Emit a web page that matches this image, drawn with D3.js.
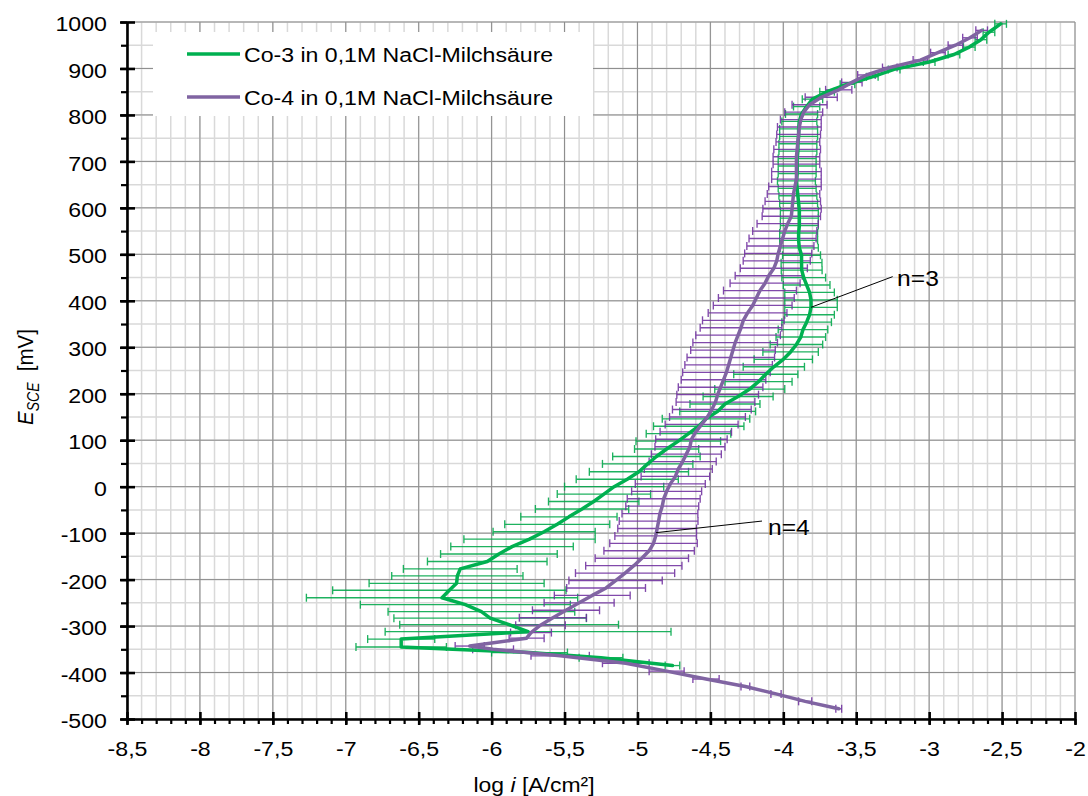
<!DOCTYPE html>
<html>
<head>
<meta charset="utf-8">
<script src="https://cdn.jsdelivr.net/npm/d3@7"></script>
<style>
  body { margin: 0; background: #fff; }
  text { font-family: "Liberation Sans", Arial, sans-serif; fill: #000; }
</style>
</head>
<body>
<svg id="chart" width="1088" height="796"></svg>
<script>
// Polarisation curves, averaged over n samples, with ±SD error bars on log i
// Co-3 in 0,1M NaCl-Milchsäure (n=3)
const co3E = [-385, -368, -357, -345, -328, -312, -297, -283, -269, -254, -239, -223, -208, -192, -177, -161, -145, -129, -113, -97,
  -81, -65, -48, -32, -16, 0, 16, 32, 49, 65, 81, 98, 114, 130, 146, 162, 178, 194, 210, 226,
  242, 258, 274, 290, 306, 322, 338, 354, 370, 386, 402, 418, 434, 450, 466, 482, 498, 514, 530, 546,
  562, 578, 594, 610, 626, 642, 658, 674, 690, 706, 722, 738, 754, 770, 786, 802, 818, 834, 850, 866,
  882, 898, 914, 930, 946, 962, 978, 996];
const co3LogI = [-4.76, -5.25, -5.74, -6.62, -6.62, -5.75, -5.88, -6.01, -6.07, -6.18, -6.34, -6.29, -6.24, -6.235, -6.215, -6.03, -5.95, -5.86, -5.74, -5.64,
  -5.55, -5.47, -5.38, -5.30, -5.23, -5.16, -5.07, -4.99, -4.93, -4.87, -4.80, -4.72, -4.65, -4.58, -4.53, -4.45, -4.40, -4.31, -4.23, -4.17,
  -4.12, -4.065, -4.00, -3.95, -3.91, -3.88, -3.865, -3.84, -3.82, -3.81, -3.81, -3.82, -3.84, -3.86, -3.874, -3.875, -3.875, -3.89, -3.895, -3.895,
  -3.89, -3.89, -3.89, -3.895, -3.90, -3.905, -3.91, -3.905, -3.905, -3.905, -3.90, -3.90, -3.895, -3.895, -3.89, -3.875, -3.84, -3.80, -3.70, -3.56,
  -3.39, -3.24, -3.00, -2.83, -2.725, -2.645, -2.59, -2.51];
const co3Err = [0.05, 0.15, 0.26, 0.31, 0.23, 0.98, 0.75, 0.66, 0.64, 0.72, 0.93, 0.80, 0.60, 0.45, 0.39, 0.41, 0.40, 0.42, 0.45, 0.35,
  0.36, 0.33, 0.32, 0.31, 0.32, 0.34, 0.35, 0.34, 0.31, 0.30, 0.22, 0.29, 0.29, 0.31, 0.30, 0.26, 0.24, 0.24, 0.24, 0.23,
  0.22, 0.21, 0.20, 0.19, 0.18, 0.17, 0.17, 0.17, 0.17, 0.18, 0.18, 0.17, 0.16, 0.15, 0.14, 0.14, 0.13, 0.13, 0.13, 0.13,
  0.13, 0.13, 0.13, 0.13, 0.13, 0.13, 0.13, 0.13, 0.13, 0.13, 0.13, 0.13, 0.13, 0.13, 0.12, 0.11, 0.09, 0.07, 0.05, 0.05,
  0.04, 0.04, 0.04, 0.04, 0.04, 0.04, 0.04, 0.04];

// Co-4 in 0,1M NaCl-Milchsäure (n=4)
const co4E = [-478, -462, -446, -430, -414, -397, -380, -364, -350, -343, -326, -314, -298, -282, -266, -250, -234, -218, -202, -186,
  -170, -154, -138, -122, -106, -90, -74, -58, -42, -26, -10, 6, 22, 38, 54, 70, 86, 102, 118, 134,
  150, 166, 182, 198, 214, 230, 246, 262, 278, 294, 310, 326, 342, 358, 374, 390, 406, 422, 438, 454,
  470, 486, 502, 518, 534, 550, 566, 582, 598, 614, 630, 646, 662, 678, 694, 710, 726, 742, 758, 774,
  790, 806, 822, 838, 854, 870, 886, 902, 918, 934, 950, 966, 982];
const co4LogI = [-3.62, -3.85, -4.05, -4.26, -4.53, -4.80, -5.08, -5.53, -5.99, -6.15, -5.76, -5.73, -5.665, -5.58, -5.49, -5.40, -5.31, -5.215, -5.15, -5.085,
  -5.025, -4.97, -4.92, -4.89, -4.875, -4.865, -4.855, -4.846, -4.83, -4.82, -4.80, -4.775, -4.74, -4.72, -4.69, -4.665, -4.64, -4.63, -4.60, -4.56,
  -4.52, -4.49, -4.465, -4.45, -4.43, -4.41, -4.39, -4.375, -4.36, -4.345, -4.33, -4.31, -4.29, -4.274, -4.245, -4.21, -4.185, -4.16, -4.125, -4.10,
  -4.065, -4.045, -4.035, -4.02, -4.005, -3.99, -3.97, -3.945, -3.94, -3.935, -3.93, -3.92, -3.91, -3.91, -3.91, -3.91, -3.905, -3.90, -3.895, -3.89,
  -3.88, -3.86, -3.82, -3.74, -3.62, -3.53, -3.43, -3.27, -3.06, -2.94, -2.82, -2.72, -2.64];
const co4Err = [0.02, 0.045, 0.035, 0.03, 0.09, 0.12, 0.16, 0.20, 0.14, 0.10, 0.12, 0.14, 0.17, 0.23, 0.23, 0.24, 0.26, 0.27, 0.32, 0.34,
  0.33, 0.32, 0.31, 0.30, 0.28, 0.27, 0.27, 0.26, 0.25, 0.25, 0.24, 0.24, 0.235, 0.233, 0.23, 0.24, 0.24, 0.245, 0.245, 0.25,
  0.26, 0.27, 0.27, 0.28, 0.29, 0.29, 0.30, 0.30, 0.30, 0.29, 0.29, 0.29, 0.28, 0.28, 0.27, 0.27, 0.26, 0.25, 0.24, 0.23,
  0.23, 0.23, 0.23, 0.23, 0.23, 0.22, 0.21, 0.20, 0.20, 0.19, 0.18, 0.18, 0.17, 0.17, 0.16, 0.16, 0.16, 0.15, 0.15, 0.15,
  0.14, 0.13, 0.12, 0.11, 0.09, 0.07, 0.06, 0.05, 0.05, 0.05, 0.05, 0.05, 0.04];

const seriesNames = ["Co-3 in 0,1M NaCl-Milchsäure", "Co-4 in 0,1M NaCl-Milchsäure"];
const sampleLabels = ["n=3", "n=4"];

// axis ticks
const xMajorTicks = [-8.5, -8, -7.5, -7, -6.5, -6, -5.5, -5, -4.5, -4, -3.5, -3, -2.5, -2];
const xMinorTicks = d3.range(-85, -19, 1).map(v => v / 10);
const yMajorTicks = [-500, -400, -300, -200, -100, 0, 100, 200, 300, 400, 500, 600, 700, 800, 900, 1000];
const yMinorTicks = d3.range(-500, 1001, 50);

// ---------------------------------------------------------------
const plotL = 127, plotR = 1075, plotT = 22, plotB = 719;
const svg = d3.select("#chart");

const x = d3.scaleLinear().domain([-8.5, -2]).range([plotL, plotR]);
const y = d3.scaleLinear().domain([-500, 1000]).range([plotB, plotT]);

const de = d3.formatLocale({ decimal: ",", thousands: ".", grouping: [3], currency: ["", ""], minus: "-" });
const fmt = de.format("~g");

const SX = 1.13;           // horizontal glyph stretch
const green = "#00b050", greenBar = "#00a84a";
const purple = "#8064a2", purpleBar = "#7030a0";

// grid
const grid = svg.append("g");
grid.selectAll("line.vmin").data(xMinorTicks).join("line")
  .attr("x1", d => x(d)).attr("x2", d => x(d)).attr("y1", plotT).attr("y2", plotB)
  .attr("stroke", "#d9d9d9").attr("stroke-width", 1.5);
grid.selectAll("line.hmin").data(yMinorTicks).join("line")
  .attr("x1", plotL).attr("x2", plotR).attr("y1", d => y(d)).attr("y2", d => y(d))
  .attr("stroke", "#d9d9d9").attr("stroke-width", 1.5);
grid.selectAll("line.vmaj").data(xMajorTicks).join("line")
  .attr("x1", d => x(d)).attr("x2", d => x(d)).attr("y1", plotT).attr("y2", plotB)
  .attr("stroke", "#8c8c8c").attr("stroke-width", 1);
grid.selectAll("line.hmaj").data(yMajorTicks).join("line")
  .attr("x1", plotL).attr("x2", plotR).attr("y1", d => y(d)).attr("y2", d => y(d))
  .attr("stroke", "#8c8c8c").attr("stroke-width", 1);

// legend background covers the grid
svg.append("rect").attr("x", 153).attr("y", 32).attr("width", 440).attr("height", 84).attr("fill", "#fff");

// data
const co3 = co3E.map((e, i) => ({ e, v: co3LogI[i], s: co3Err[i] }));
const co4 = co4E.map((e, i) => ({ e, v: co4LogI[i], s: co4Err[i] }));

function errorBars(data, color) {
  const g = svg.append("g").attr("stroke", color).attr("stroke-width", 1.35).attr("opacity", 0.88).attr("fill", "none");
  const cap = 4;
  data.forEach(d => {
    const yy = y(d.e), x0 = x(d.v - d.s), x1 = x(d.v + d.s);
    g.append("line").attr("x1", x0).attr("x2", x1).attr("y1", yy).attr("y2", yy);
    g.append("line").attr("x1", x0).attr("x2", x0).attr("y1", yy - cap).attr("y2", yy + cap);
    g.append("line").attr("x1", x1).attr("x2", x1).attr("y1", yy - cap).attr("y2", yy + cap);
  });
}
errorBars(co3, greenBar);
errorBars(co4, purpleBar);

const line = d3.line().x(d => x(d.v)).y(d => y(d.e));
svg.append("path").datum(co3).attr("d", line).attr("fill", "none")
  .attr("stroke", green).attr("stroke-width", 3.5).attr("stroke-linejoin", "round").attr("stroke-linecap", "round");
svg.append("path").datum(co4).attr("d", line).attr("fill", "none")
  .attr("stroke", purple).attr("stroke-width", 3.5).attr("stroke-linejoin", "round").attr("stroke-linecap", "round");

// axes
const axX = svg.append("g").attr("transform", `translate(0,${plotB})`);
axX.append("g").call(d3.axisBottom(x).tickValues(xMinorTicks).tickSize(5).tickSizeOuter(0).tickFormat(""))
  .call(g => g.select(".domain").remove())
  .call(g => g.selectAll("line").attr("stroke", "#000").attr("stroke-width", 2.2));
axX.append("g").call(d3.axisBottom(x).tickValues(xMajorTicks).tickSize(6).tickSizeOuter(0).tickFormat(fmt))
  .call(g => g.select(".domain").attr("stroke", "#000").attr("stroke-width", 2.6))
  .call(g => g.selectAll(".tick line").attr("stroke", "#000").attr("stroke-width", 2.6).attr("y1", -7))
  .call(g => g.selectAll(".tick text").attr("y", 37).attr("dy", null)
    .attr("font-size", "20.5px").attr("transform", `scale(${SX},1)`)
    .attr("font-family", "'Liberation Sans', Arial, sans-serif").attr("fill", "#000"));

const axY = svg.append("g").attr("transform", `translate(${plotL},0)`);
axY.append("g").call(d3.axisLeft(y).tickValues(yMinorTicks).tickSize(6).tickSizeOuter(0).tickFormat(""))
  .call(g => g.select(".domain").remove())
  .call(g => g.selectAll("line").attr("stroke", "#000").attr("stroke-width", 2.2));
axY.append("g").call(d3.axisLeft(y).tickValues(yMajorTicks).tickSize(7).tickSizeOuter(0).tickFormat(fmt))
  .call(g => g.select(".domain").attr("stroke", "#000").attr("stroke-width", 2.6))
  .call(g => g.selectAll(".tick line").attr("stroke", "#000").attr("stroke-width", 2.6).attr("x1", 8))
  .call(g => g.selectAll(".tick text").attr("x", -20 / SX).attr("dy", "0.42em")
    .attr("font-size", "20.5px").attr("transform", `scale(${SX},1)`)
    .attr("font-family", "'Liberation Sans', Arial, sans-serif").attr("fill", "#000"));

// axis titles
const xt = svg.append("text").attr("transform", `translate(534,792) scale(1.12,1)`)
  .attr("text-anchor", "middle").attr("font-size", "20.5px");
xt.append("tspan").text("log ");
xt.append("tspan").attr("font-style", "italic").text("i");
xt.append("tspan").text(" [A/cm²]");

const yt = svg.append("text").attr("transform", `translate(33,377) rotate(-90) scale(1,1.12)`)
  .attr("text-anchor", "middle").attr("font-size", "20.5px").attr("xml:space", "preserve");
yt.append("tspan").attr("font-style", "italic").text("E");
yt.append("tspan").attr("font-style", "italic").attr("font-size", "14px").attr("dy", 5).text("SCE");
yt.append("tspan").attr("dy", -5).text("  [mV]");

// legend
const legendRows = [{ name: seriesNames[0], color: green }, { name: seriesNames[1], color: purple }];
legendRows.forEach((r, i) => {
  const ly = 54 + i * 43;
  svg.append("line").attr("x1", 187).attr("x2", 240).attr("y1", ly).attr("y2", ly)
    .attr("stroke", r.color).attr("stroke-width", 3.5);
  svg.append("text").attr("transform", `translate(244,${ly + 7.5}) scale(1.1,1)`)
    .attr("font-size", "21px").text(r.name);
});

// sample-size annotations with leader lines
const notes = [
  { label: sampleLabels[0], from: [-3.81, 386], to: [-3.25, 452], at: [-3.22, 431] },
  { label: sampleLabels[1], from: [-4.873, -99], to: [-4.146, -74], at: [-4.105, -104] }
];
notes.forEach(n => {
  svg.append("line").attr("x1", x(n.from[0])).attr("y1", y(n.from[1]))
    .attr("x2", x(n.to[0])).attr("y2", y(n.to[1])).attr("stroke", "#000").attr("stroke-width", 1);
  svg.append("text").attr("transform", `translate(${x(n.at[0])},${y(n.at[1])}) scale(1.12,1)`)
    .attr("font-size", "22px").text(n.label);
});
</script>
</body>
</html>
